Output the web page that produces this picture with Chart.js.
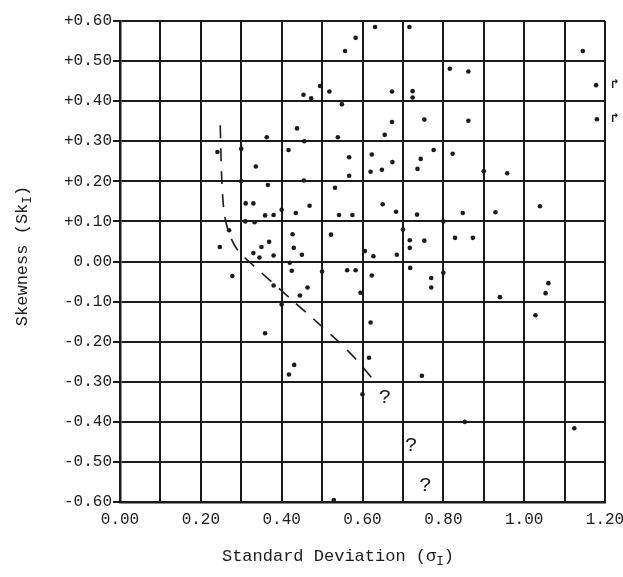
<!DOCTYPE html>
<html lang="en">
<head>
  <meta charset="UTF-8">
  <title>Skewness vs Standard Deviation</title>
  <script src="https://cdn.jsdelivr.net/npm/chart.js"></script>
  <style>
    html, body { margin: 0; padding: 0; background: #fff; }
    #wrap { width: 623px; height: 577px; }
  </style>
</head>
<body>
  <div id="wrap"><canvas id="chart" width="623" height="577"></canvas></div>
  <script>
    // standard deviation (x) and skewness (y) of each sample
    const sdValues = [
      0.583, 0.557, 0.631, 0.716, 1.145, 0.454, 0.473, 0.495, 0.518, 0.549,
      0.816, 0.862, 1.178, 0.673, 0.724, 0.724, 0.241, 0.300, 0.363, 0.336,
      0.417, 0.438, 0.456, 0.539, 0.567, 0.567, 0.673, 0.753, 0.862, 1.180,
      0.655, 0.623, 0.620, 0.648, 0.674, 0.744, 0.736, 0.776, 0.823, 0.900,
      0.958, 0.300, 0.366, 0.455, 0.532, 0.311, 0.330, 0.310, 0.333, 0.359,
      0.380, 0.400, 0.435, 0.469, 0.542, 0.575, 0.270, 0.247, 0.427, 0.430,
      0.450, 0.369, 0.350, 0.330, 0.345, 0.380, 0.522, 0.278, 0.420, 0.425,
      0.500, 0.562, 0.583, 0.380, 0.464, 0.445, 0.400, 0.595, 0.359, 0.650,
      0.683, 0.735, 0.848, 0.929, 1.039, 0.800, 0.700, 0.717, 0.717, 0.753,
      0.829, 0.873, 0.606, 0.627, 0.685, 0.623, 0.718, 0.770, 0.770, 0.800,
      0.940, 1.060, 1.053, 0.620, 1.028, 0.431, 0.418, 0.529, 0.600, 0.616,
      0.747, 0.853, 1.124
    ];
    const skewValues = [
      0.558, 0.525, 0.585, 0.585, 0.525, 0.416, 0.407, 0.438, 0.424, 0.392,
      0.481, 0.474, 0.440, 0.424, 0.425, 0.409, 0.273, 0.281, 0.310, 0.237,
      0.278, 0.332, 0.300, 0.310, 0.260, 0.214, 0.348, 0.354, 0.351, 0.355,
      0.316, 0.267, 0.224, 0.229, 0.248, 0.256, 0.231, 0.278, 0.269, 0.225,
      0.220, 0.200, 0.191, 0.202, 0.184, 0.145, 0.145, 0.100, 0.098, 0.115,
      0.116, 0.129, 0.121, 0.139, 0.116, 0.116, 0.078, 0.036, 0.068, 0.034,
      0.017, 0.049, 0.036, 0.021, 0.010, 0.015, 0.067, -0.036, -0.003, -0.023,
      -0.025, -0.022, -0.022, -0.060, -0.065, -0.085, -0.107, -0.078, -0.179, 0.143,
      0.124, 0.117, 0.121, 0.123, 0.138, 0.100, 0.080, 0.053, 0.034, 0.052,
      0.059, 0.059, 0.026, 0.013, 0.017, -0.035, -0.016, -0.041, -0.065, -0.028,
      -0.089, -0.054, -0.079, -0.152, -0.134, -0.258, -0.282, -0.595, -0.331, -0.240,
      -0.285, -0.400, -0.416
    ];

    // hand-drawn dashed boundary
    const dashX = [0.248, 0.252, 0.258, 0.270, 0.290, 0.330, 0.430, 0.530, 0.585, 0.635];
    const dashY = [0.340, 0.200, 0.120, 0.070, 0.030, -0.010, -0.100, -0.190, -0.245, -0.305];

    // "?" marks and off-scale arrows
    const queryX = [0.656, 0.721, 0.756];
    const queryY = [-0.340, -0.458, -0.558];
    const arrowY = [0.440, 0.355];

    const xLabels = ['0.00', '0.20', '0.40', '0.60', '0.80', '1.00', '1.20'];
    const yLabels = ['-0.60', '-0.50', '-0.40', '-0.30', '-0.20', '-0.10', '0.00',
                     '+0.10', '+0.20', '+0.30', '+0.40', '+0.50', '+0.60'];

    const FONT = "'Liberation Mono', 'DejaVu Sans Mono', monospace";
    const INK = '#1b1b1b';

    const points = sdValues.map((x, i) => ({ x: x, y: skewValues[i] }));
    const dashPts = dashX.map((x, i) => ({ x: x, y: dashY[i] }));

    function drawSub(ctx, parts, size) {
      // parts: [[text, isSub], ...] drawn left to right from current origin
      let w = 0;
      parts.forEach(p => {
        ctx.font = (p[1] ? size * 0.75 : size) + 'px ' + FONT;
        w += ctx.measureText(p[0]).width;
      });
      let x = -w / 2;
      parts.forEach(p => {
        ctx.font = (p[1] ? size * 0.75 : size) + 'px ' + FONT;
        ctx.fillText(p[0], x, p[1] ? 6 : 0);
        x += ctx.measureText(p[0]).width;
      });
    }

    const notes = {
      id: 'notes',
      afterDatasetsDraw(chart) {
        const ctx = chart.ctx, xs = chart.scales.x, ys = chart.scales.y;
        ctx.save();
        ctx.fillStyle = INK;
        ctx.textAlign = 'center';
        ctx.textBaseline = 'middle';
        ctx.font = '21px ' + FONT;
        queryX.forEach((v, i) => ctx.fillText('?', xs.getPixelForValue(v), ys.getPixelForValue(queryY[i])));
        ctx.font = 'bold 13px ' + FONT;
        arrowY.forEach(v => ctx.fillText('\u21B1', xs.getPixelForValue(1.2) + 10, ys.getPixelForValue(v)));
        ctx.restore();
      },
      afterDraw(chart) {
        const ctx = chart.ctx;
        ctx.save();
        ctx.fillStyle = INK;
        ctx.textAlign = 'left';
        ctx.textBaseline = 'middle';
        ctx.translate(338, 556);
        drawSub(ctx, [['Standard Deviation (\u03C3', false], ['I', true], [')', false]], 17);
        ctx.restore();
        ctx.save();
        ctx.fillStyle = INK;
        ctx.textAlign = 'left';
        ctx.textBaseline = 'middle';
        ctx.translate(22, 256);
        ctx.rotate(-Math.PI / 2);
        drawSub(ctx, [['Skewness (Sk', false], ['I', true], [')', false]], 17);
        ctx.restore();
      }
    };

    new Chart(document.getElementById('chart'), {
      type: 'scatter',
      data: {
        datasets: [
          {
            data: points,
            backgroundColor: INK,
            borderColor: INK,
            pointRadius: 2.3,
            pointBorderWidth: 0
          },
          {
            type: 'line',
            data: dashPts,
            borderColor: INK,
            borderWidth: 1.6,
            borderDash: [13, 10],
            pointRadius: 0,
            fill: false,
            tension: 0.3
          }
        ]
      },
      options: {
        responsive: false,
        animation: false,
        events: [],
        layout: { padding: { top: 21, right: 18, left: 0, bottom: 0 }, autoPadding: false },
        plugins: { legend: { display: false }, tooltip: { enabled: false } },
        scales: {
          x: {
            type: 'linear',
            min: 0, max: 1.2,
            afterFit: s => { s.height = 75; s.paddingLeft = 0; s.paddingRight = 0; },
            grid: { color: INK, lineWidth: 2, drawTicks: false },
            border: { color: INK, width: 2.5 },
            ticks: {
              stepSize: 0.1,
              padding: 8,
              maxRotation: 0,
              autoSkip: false,
              color: INK,
              font: { family: FONT, size: 16 },
              callback: v => {
                const k = Math.round(v * 10);
                return k % 2 === 0 ? xLabels[k / 2] : '';
              }
            }
          },
          y: {
            type: 'linear',
            min: -0.6, max: 0.6,
            afterFit: s => { s.width = 120; s.paddingTop = 0; s.paddingBottom = 0; },
            grid: { color: INK, lineWidth: 2, tickLength: 7 },
            border: { color: INK, width: 2.5 },
            ticks: {
              stepSize: 0.1,
              padding: 1,
              autoSkip: false,
              color: INK,
              font: { family: FONT, size: 16 },
              callback: v => yLabels[Math.round(v * 10) + 6]
            }
          }
        }
      },
      plugins: [notes]
    });
  </script>
</body>
</html>
